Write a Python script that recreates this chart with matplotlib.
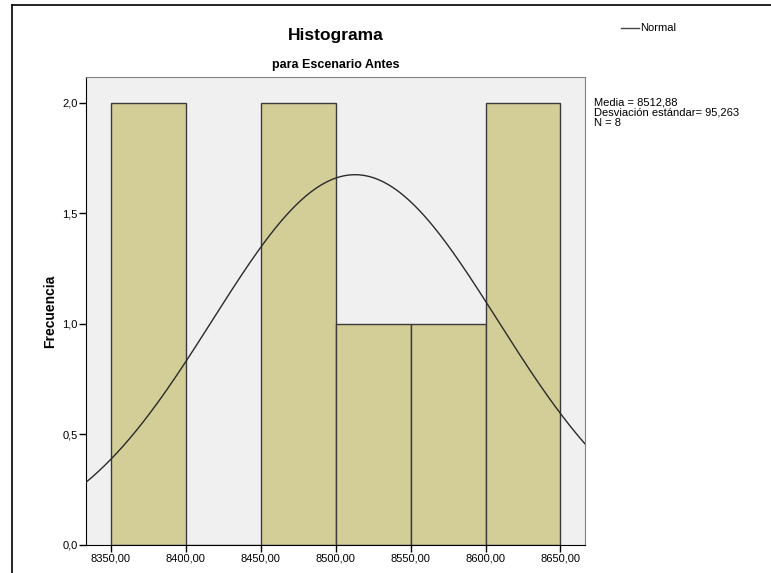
import numpy as np
import matplotlib.pyplot as plt
from matplotlib.ticker import FuncFormatter

plt.rcParams['font.family'] = ['Liberation Sans', 'DejaVu Sans']

# histogram data (bin edges and counts)
bin_edges = [8350, 8400, 8450, 8500, 8550, 8600, 8650]
counts = [2, 0, 2, 1, 1, 2]
# summary stats shown on the chart
media = 8512.88
desv = 95.263
n = 8

fig = plt.figure(figsize=(7.71, 5.73), dpi=100)
ax = fig.add_axes([0.1115, 0.0489, 0.6479, 0.8167])
ax.set_facecolor('#f0f0f0')

widths = np.diff(bin_edges)
ax.bar(bin_edges[:-1], counts, width=widths, align='edge',
       color='#d3ce97', edgecolor='#3a3a3a', linewidth=1.0, zorder=2)

# normal curve scaled to the histogram
x = np.linspace(8333.3, 8666.7, 400)
bw = widths[0]
y = n * bw / (desv * np.sqrt(2 * np.pi)) * np.exp(-0.5 * ((x - media) / desv) ** 2)
ax.plot(x, y, color='#2a2a2a', linewidth=1.0, zorder=3)

ax.set_xlim(8333.3, 8666.7)
ax.set_ylim(0, 2.117)
ax.set_xticks(bin_edges)
ax.set_yticks([0, 0.5, 1.0, 1.5, 2.0])
ax.xaxis.set_major_formatter(FuncFormatter(lambda v, p: ('%.2f' % v).replace('.', ',')))
ax.yaxis.set_major_formatter(FuncFormatter(lambda v, p: ('%.1f' % v).replace('.', ',')))
ax.tick_params(axis='both', direction='out', length=5, width=1, labelsize=8, color='black', pad=1)

for s in ['top', 'right']:
    ax.spines[s].set_color('#808080')
for s in ['left', 'bottom']:
    ax.spines[s].set_color('black')

ax.set_ylabel('Frecuencia', fontsize=10, fontweight='bold', labelpad=4)

fig.text(0.435, 0.938, 'Histograma', ha='center', va='center', fontsize=12.5, fontweight='bold')
fig.text(0.435, 0.886, 'para Escenario Antes', ha='center', va='center', fontsize=9, fontweight='bold')

# legend entry
fig.add_artist(plt.Line2D([0.806, 0.829], [0.951, 0.951], color='#444444', linewidth=1.0))
fig.text(0.830, 0.951, 'Normal', ha='left', va='center', fontsize=8)

fig.text(0.770, 0.830, 'Media = 8512,88\nDesviación estándar= 95,263\nN = 8',
         ha='left', va='top', fontsize=8, linespacing=1.05)

# partial outer frame (left and top)
fig.add_artist(plt.Line2D([0.0156, 0.0156], [0.0, 0.991], color='black', linewidth=1.2))
fig.add_artist(plt.Line2D([0.0156, 1.0], [0.991, 0.991], color='black', linewidth=1.2))

plt.savefig('out.png', dpi=100)
